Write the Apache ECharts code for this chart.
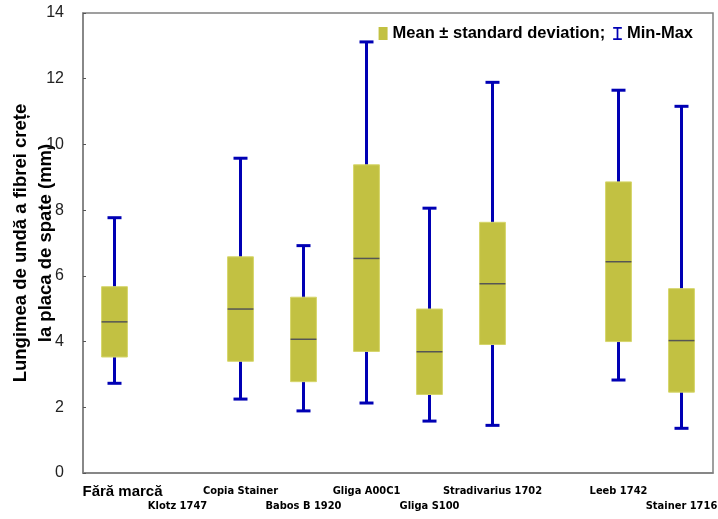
<!DOCTYPE html>
<html>
<head>
<meta charset="utf-8">
<script src="https://cdn.jsdelivr.net/npm/echarts@6/dist/echarts.min.js"></script>
<style>html,body{margin:0;padding:0;background:#fff}#c{width:718px;height:519px}</style>
</head>
<body>
<div id="c"></div>
<script>
var categories = ['Fără marcă','Klotz 1747','Copia Stainer','Babos B 1920','Gliga A00C1','Gliga S100','Stradivarius 1702','','Leeb 1742','Stainer 1716'];
var minV   = [2.73, null, 2.25, 1.89, 2.13, 1.58, 1.45, null, 2.83, 1.36];
var sdLow  = [3.53, null, 3.40, 2.78, 3.70, 2.39, 3.91, null, 4.00, 2.46];
var meanV  = [4.60, null, 4.99, 4.07, 6.53, 3.69, 5.76, null, 6.43, 4.03];
var sdHigh = [5.67, null, 6.58, 5.35, 9.38, 4.99, 7.63, null, 8.86, 5.61];
var maxV   = [7.77, null, 9.58, 6.92, 13.12, 8.06, 11.89, null, 11.65, 11.16];
var yTicks = [0, 2, 4, 6, 8, 10, 12, 14];

var whiskerData = [], boxData = [];
categories.forEach(function (c, i) {
  if (minV[i] != null) {
    whiskerData.push([i, minV[i], maxV[i]]);
    boxData.push([i, sdLow[i], meanV[i], sdHigh[i]]);
  }
});

var BLUE = '#0000b4', OLIVE = '#c2c142';
var chart = echarts.init(document.getElementById('c'));
chart.setOption({
  animation: false,
  grid: { left: 83, right: 5, top: 13, bottom: 46, containLabel: false, outerBoundsMode: 'none', show: true, borderColor: '#808080', borderWidth: 1.5 },
  legend: {
    right: 20, top: 20, itemGap: 8, itemWidth: 9, itemHeight: 13,
    textStyle: { fontFamily: 'Liberation Sans, Arial, sans-serif', fontWeight: 'bold', fontSize: 16.5, color: '#000' },
    data: [
      { name: 'Mean ± standard deviation;', icon: 'rect' },
      { name: 'Min-Max', icon: 'path://M0,0H8V1.6H4.8V10.4H8V12H0V10.4H3.2V1.6H0Z' }
    ]
  },
  xAxis: {
    type: 'category', data: categories,
    axisLine: { lineStyle: { color: '#808080', width: 1.5 } },
    axisTick: { inside: true, length: 3, alignWithLabel: true, interval: 0, lineStyle: { color: '#555' } },
    axisLabel: {
      interval: 0, margin: 11, lineHeight: 15, color: '#000',
      fontFamily: 'Liberation Sans Narrow, Arial Narrow, DejaVu Sans Condensed, sans-serif',
      fontWeight: 'bold', fontSize: 11,
      formatter: function (v, i) {
        if (i === 0) return '{big|' + v + '}';
        return (i % 2 === 1 ? '\n' : '') + v;
      },
      rich: { big: { fontFamily: 'Liberation Sans, Arial, sans-serif', fontWeight: 'bold', fontSize: 15, color: '#000', padding: [0, 0, 0, 16] } }
    },
    splitLine: { show: false }
  },
  yAxis: {
    type: 'value', min: yTicks[0], max: yTicks[yTicks.length - 1], interval: 2,
    name: 'Lungimea de undă a fibrei crețe\nla placa de spate (mm)',
    nameLocation: 'middle', nameGap: 25, nameMoveOverlap: false,
    nameTextStyle: { fontFamily: 'Liberation Sans, Arial, sans-serif', fontWeight: 'bold', fontSize: 18.5, color: '#000', lineHeight: 25 },
    axisLine: { show: true, lineStyle: { color: '#808080', width: 1.5 } },
    axisTick: { show: true, inside: true, length: 3, lineStyle: { color: '#555' } },
    axisLabel: { margin: 19, fontFamily: 'Liberation Sans, Arial, sans-serif', fontSize: 16, color: '#222' },
    splitLine: { show: false }
  },
  series: [
    {
      name: 'Min-Max', type: 'custom', itemStyle: { color: BLUE }, z: 2,
      encode: { x: 0, y: [1, 2] },
      data: whiskerData,
      renderItem: function (params, api) {
        var x = api.value(0);
        var p1 = api.coord([x, api.value(1)]);
        var p2 = api.coord([x, api.value(2)]);
        var hw = 7;
        var st = { stroke: BLUE, lineWidth: 3 };
        return { type: 'group', children: [
          { type: 'line', shape: { x1: p1[0], y1: p1[1], x2: p2[0], y2: p2[1] }, style: st },
          { type: 'line', shape: { x1: p1[0] - hw, y1: p1[1], x2: p1[0] + hw, y2: p1[1] }, style: st },
          { type: 'line', shape: { x1: p2[0] - hw, y1: p2[1], x2: p2[0] + hw, y2: p2[1] }, style: st }
        ] };
      }
    },
    {
      name: 'Mean ± standard deviation;', type: 'custom', itemStyle: { color: OLIVE }, z: 3,
      encode: { x: 0, y: [1, 2, 3] },
      data: boxData,
      renderItem: function (params, api) {
        var x = api.value(0);
        var lo = api.coord([x, api.value(1)]);
        var mid = api.coord([x, api.value(2)]);
        var hi = api.coord([x, api.value(3)]);
        var w = api.size([1, 0])[0] * 0.41;
        return { type: 'group', children: [
          { type: 'rect', shape: { x: lo[0] - w / 2, y: hi[1], width: w, height: lo[1] - hi[1] }, style: { fill: OLIVE, stroke: '#d6d66a', lineWidth: 1 } },
          { type: 'line', shape: { x1: mid[0] - w / 2, y1: mid[1], x2: mid[0] + w / 2, y2: mid[1] }, style: { stroke: '#555555', lineWidth: 1.5 } }
        ] };
      }
    }
  ]
});
</script>
</body>
</html>
